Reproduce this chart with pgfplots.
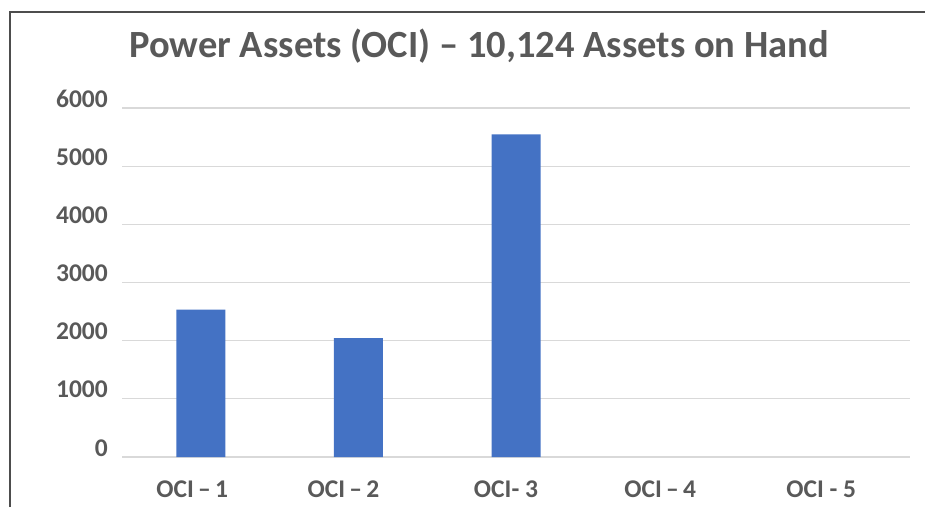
\documentclass[border=0pt]{standalone}
\usepackage{pgfplots}
\pgfplotsset{compat=1.18}
\usepackage{fontspec}
\setmainfont{Carlito}
\definecolor{txt}{HTML}{595959}
\definecolor{gridc}{HTML}{D9D9D9}
\definecolor{barc}{HTML}{4472C4}
\definecolor{frame}{HTML}{4D4D4D}
\begin{document}
\begin{tikzpicture}[x=1pt,y=1pt]
\useasboundingbox (0,0) rectangle (925,507);
\draw[frame,line width=1.3pt] (10,0) -- (10,495) -- (925,495);
\node[txt,font=\fontsize{38.5}{40}\selectfont\bfseries,anchor=base] at (479,449) {Power Assets (OCI) – 10,124 Assets on Hand};
\begin{axis}[
  at={(122pt,50pt)}, anchor=south west,
  scale only axis, width=788pt, height=349pt,
  xmin=-0.5, xmax=4.5, ymin=0, ymax=6000,
  ytick={0,1000,...,6000},
  xtick={0,1,2,3,4},
  xticklabels={OCI\,–\,1\hspace*{17pt},OCI\,–\,2\hspace*{30pt},OCI- 3\hspace*{20pt},OCI\,–\,4\hspace*{27pt},OCI - 5\hspace*{20pt}},
  axis line style={draw=none},
  major tick length=0pt,
  ymajorgrids, grid style={gridc,line width=1.3pt},
  yticklabel style={anchor=base east, inner sep=0pt, xshift=-14pt, yshift=1pt, text=txt, font=\fontsize{25.5}{27}\selectfont\bfseries},
  xticklabel style={anchor=base, inner sep=0pt, yshift=-40pt, text=txt, font=\fontsize{25.5}{27}\selectfont\bfseries},
  /pgf/number format/assume math mode=true,
  scaled y ticks=false,
  yticklabel={\pgfmathprintnumber[fixed,1000 sep={}]{\tick}},
  clip=false,
]
% OCI-4 and OCI-5 hold 0 and draw no bar
\addplot[ybar, bar width=49pt, fill=barc, draw=none] coordinates {(0,2535) (1,2043) (2,5546)};
\end{axis}
\end{tikzpicture}
\end{document}
